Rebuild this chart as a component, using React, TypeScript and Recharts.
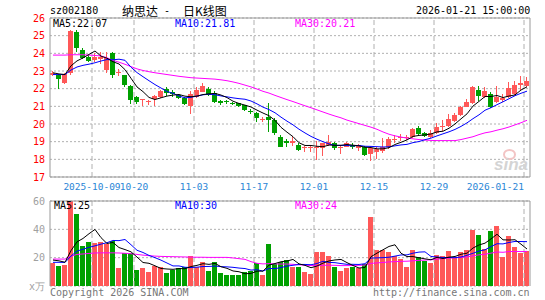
import React from "react";
import { ComposedChart, Bar, Line, XAxis, YAxis, ReferenceLine, CartesianGrid } from "recharts";

const dates = [
  "2025-09-22", "2025-09-23", "2025-09-24", "2025-09-25", "2025-09-26", "2025-09-29", "2025-09-30",
  "2025-10-09", "2025-10-10", "2025-10-13", "2025-10-14", "2025-10-15", "2025-10-16", "2025-10-17",
  "2025-10-20", "2025-10-21", "2025-10-22", "2025-10-23", "2025-10-24", "2025-10-27", "2025-10-28",
  "2025-10-29", "2025-10-30", "2025-10-31",
  "2025-11-03", "2025-11-04", "2025-11-05", "2025-11-06", "2025-11-07", "2025-11-10", "2025-11-11",
  "2025-11-12", "2025-11-13", "2025-11-14", "2025-11-17", "2025-11-18", "2025-11-19", "2025-11-20",
  "2025-11-21", "2025-11-24", "2025-11-25", "2025-11-26", "2025-11-27", "2025-11-28",
  "2025-12-01", "2025-12-02", "2025-12-03", "2025-12-04", "2025-12-05", "2025-12-08", "2025-12-09",
  "2025-12-10", "2025-12-11", "2025-12-12", "2025-12-15", "2025-12-16", "2025-12-17", "2025-12-18",
  "2025-12-19", "2025-12-22", "2025-12-23", "2025-12-24", "2025-12-25", "2025-12-26", "2025-12-29",
  "2025-12-30", "2025-12-31",
  "2026-01-05", "2026-01-06", "2026-01-07", "2026-01-08", "2026-01-09", "2026-01-12", "2026-01-13",
  "2026-01-14", "2026-01-15", "2026-01-16", "2026-01-19", "2026-01-20", "2026-01-21",
];

const opens = [
  22.8, 22.76, 22.3, 22.87, 25.2, 24.2, 23.8, 23.6, 23.7, 23.06,
  24.0, 22.88, 22.77, 22.15, 21.55, 21.38, 21.25, 21.4, 21.55, 22.0,
  21.8, 21.65, 21.5, 21.0, 21.55, 21.83, 21.96, 21.75, 21.28, 21.3,
  21.2, 21.17, 21.08, 20.75, 20.64, 20.25, 20.42, 20.25, 19.28, 19.05,
  18.92, 18.8, 18.65, 18.65, 18.68, 18.66, 18.82, 18.94, 18.68, 18.72,
  18.8, 18.65, 18.72, 18.29, 18.43, 18.47, 18.68, 19.1, 19.2, 19.2,
  19.28, 19.76, 19.47, 19.28, 19.51, 19.83, 19.89, 20.19, 20.51, 20.98,
  21.21, 21.93, 21.51, 21.7, 21.25, 21.35, 21.51, 21.7, 22.21, 22.15,
];
const highs = [
  23.0, 22.85, 22.9, 25.3, 25.3, 24.3, 23.9, 24.0, 24.1, 24.1,
  24.05, 23.1, 22.8, 22.2, 21.6, 21.43, 21.35, 21.65, 21.95, 22.1,
  21.9, 21.7, 21.55, 21.89, 22.1, 22.3, 22.1, 21.85, 21.35, 21.35,
  21.25, 21.2, 21.1, 20.85, 20.7, 20.4, 21.17, 20.35, 19.35, 19.15,
  19.3, 18.9, 18.75, 18.78, 19.06, 18.95, 19.38, 19.0, 18.8, 18.98,
  18.95, 18.85, 18.75, 18.75, 18.7, 19.19, 19.25, 19.35, 19.45, 19.4,
  19.75, 19.9, 19.55, 19.65, 20.04, 20.2, 20.57, 20.6, 21.0, 21.4,
  22.15, 22.15, 22.1, 21.8, 22.15, 21.7, 22.4, 22.45, 22.72, 22.68,
];
const lows = [
  22.7, 22.0, 22.25, 22.8, 24.1, 23.7, 23.5, 23.5, 23.4, 22.9,
  22.6, 22.7, 22.1, 21.15, 21.15, 21.02, 21.1, 21.02, 21.5, 21.6,
  21.55, 21.4, 21.1, 20.57, 21.5, 21.8, 21.6, 21.2, 21.1, 21.15,
  21.05, 20.95, 20.75, 20.55, 20.1, 20.1, 19.57, 19.4, 18.7, 18.7,
  18.75, 18.45, 18.4, 18.4, 17.96, 18.2, 18.75, 18.55, 18.3, 18.68,
  18.6, 18.5, 18.2, 17.93, 18.0, 18.35, 18.6, 18.95, 19.05, 19.1,
  19.2, 19.35, 19.25, 19.22, 19.45, 19.6, 19.85, 20.1, 20.45, 20.95,
  21.15, 21.3, 21.45, 20.9, 21.2, 21.25, 21.45, 21.65, 21.95, 22.1,
];
const closes = [
  22.9, 22.57, 22.83, 25.26, 24.3, 23.75, 23.55, 23.8, 23.8, 23.72,
  22.75, 22.92, 22.2, 21.35, 21.27, 21.42, 21.28, 21.6, 21.85, 21.75,
  21.7, 21.45, 21.13, 21.68, 21.93, 22.15, 21.64, 21.27, 21.2, 21.22,
  21.12, 21.0, 20.8, 20.68, 20.32, 20.3, 20.25, 19.47, 18.72, 18.95,
  19.02, 18.53, 18.7, 18.72, 18.72, 18.9, 19.0, 18.63, 18.72, 18.94,
  18.72, 18.8, 18.25, 18.63, 18.57, 18.72, 19.13, 19.15, 19.25, 19.25,
  19.7, 19.42, 19.3, 19.5, 19.85, 19.88, 20.27, 20.51, 20.95, 21.26,
  22.08, 21.6, 21.89, 20.95, 21.55, 21.5, 22.02, 22.21, 22.34, 22.45,
];
// 万手
const volumes = [
  15.9, 14.3, 15.0, 60, 50.5, 28, 31, 30.2, 31, 29.8,
  31.7, 13, 23.1, 23, 11.4, 12.4, 10.2, 14.3, 13.6, 9.5,
  11.2, 13, 13.6, 21.4, 13.6, 17.1, 10.7, 17.1, 9.5, 7.9,
  7.9, 7.9, 10, 10.7, 15.9, 7.9, 29.3, 15.5, 17.1, 18.3,
  13.6, 13.6, 10.2, 8.8, 24.3, 23.8, 21.4, 13.6, 10.7, 13,
  13.6, 12.6, 15.5, 48.8, 25.5, 25.5, 24.3, 21.4, 19, 13.6,
  25.5, 20.2, 17.4, 15.9, 22.1, 21.4, 25, 19.8, 23.8, 25.7,
  39.8, 35.7, 26.2, 38.8, 42.1, 20.2, 35, 27.2, 23.1, 25,
];

// closes / volumes just before the window, estimated from where MA5 and MA10 start
const earlierCloses = [22.6, 22.8, 22.7, 22.6, 22.8, 22.9, 23.0, 22.8, 22.9];
const earlierVolumes = [14, 16, 15, 15.5, 15, 17, 20, 19, 19.6];

// MA30 lines (they need a month of history before the window)
const priceMa30 = [
  23.9, 23.9, 23.9, 23.92, 23.92, 23.92, 23.9, 23.88, 23.85, 23.75,
  23.6, 23.5, 23.38, 23.25, 23.12, 23.03, 22.96, 22.9, 22.85, 22.8,
  22.75, 22.7, 22.66, 22.62, 22.6, 22.58, 22.56, 22.54, 22.5, 22.45,
  22.38, 22.3, 22.2, 22.1, 21.98, 21.85, 21.75, 21.62, 21.5, 21.38,
  21.27, 21.15, 21.03, 20.92, 20.8, 20.68, 20.56, 20.45, 20.35, 20.22,
  20.12, 20.02, 19.92, 19.82, 19.7, 19.55, 19.42, 19.33, 19.26, 19.2,
  19.16, 19.12, 19.09, 19.07, 19.06, 19.06, 19.06, 19.06, 19.12, 19.2,
  19.28, 19.4, 19.5, 19.56, 19.65, 19.73, 19.83, 19.95, 20.07, 20.21,
];
const volumeMa30 = [
  19, 19, 19, 21, 22.3, 22.6, 23, 23.3, 23.4, 23.4,
  23.4, 23.3, 23.1, 22.8, 22.3, 21.8, 21.4, 21.1, 20.9, 20.8,
  20.7, 20.6, 20.5, 20.4, 20.3, 20.3, 20.2, 20.2, 20.2, 20.2,
  19.8, 19.3, 18.8, 17.2, 16, 15.6, 15.8, 15.6, 15.5, 15.5,
  15.3, 15, 14.7, 14.4, 14.5, 14.6, 14.7, 14.6, 14.4, 14.4,
  14.5, 14.6, 14.8, 16, 16.3, 16.6, 17, 17.2, 17.4, 17.5,
  17.8, 18.1, 18.3, 18.5, 19, 19.3, 19.7, 19.9, 20.2, 20.5,
  21.3, 22, 22.4, 23.2, 24, 23.8, 24.3, 24.4, 24.3, 24.4,
];

const tickDates = ["2025-10-09", "2025-10-20", "2025-11-03", "2025-11-17", "2025-12-01", "2025-12-15", "2025-12-29", "2026-01-21"];
const tickLabels = ["2025-10-09", "10-20", "11-03", "11-17", "12-01", "12-15", "12-29", "2026-01-21"];
const priceTicks = [17, 18, 19, 20, 21, 22, 23, 24, 25, 26];
const volumeTicks = [0, 20, 40, 60];

const RED = "#ff5858";
const GREEN = "#00a000";
const GRID = "#b0b0b0";
const BORDER = "#999";
const MONO = '"DejaVu Sans Mono", monospace';

const movingAverage = (values: number[], earlier: number[], n: number) => {
  const all = [...earlier, ...values];
  return values.map((_, i) => {
    const end = earlier.length + i + 1;
    const win = all.slice(end - n, end);
    return win.reduce((s, v) => s + v, 0) / win.length;
  });
};

const ma5 = movingAverage(closes, earlierCloses, 5);
const ma10 = movingAverage(closes, earlierCloses, 10);
const vma5 = movingAverage(volumes, earlierVolumes, 5);
const vma10 = movingAverage(volumes, earlierVolumes, 10);

const rows = dates.map((date, i) => ({
  date,
  open: opens[i],
  high: highs[i],
  low: lows[i],
  close: closes[i],
  range: [lows[i], highs[i]],
  vol: volumes[i],
  ma5: ma5[i],
  ma10: ma10[i],
  ma30: priceMa30[i],
  vma5: vma5[i],
  vma10: vma10[i],
  vma30: volumeMa30[i],
}));

const Candle = (props: any) => {
  const { x, y, width, height, payload } = props;
  const top0 = Math.min(y, y + height);
  const h = Math.abs(height);
  const { open, close, high, low } = payload;
  const color = close >= open ? RED : GREEN;
  const py = (p: number) => top0 + ((high - p) / (high - low)) * h;
  const bodyTop = py(Math.max(open, close));
  const bodyH = Math.max(1, py(Math.min(open, close)) - bodyTop);
  return (
    <g shapeRendering="crispEdges">
      <rect x={Math.round(x) + 2} y={top0} width={1} height={h} fill={color} />
      <rect x={Math.round(x)} y={bodyTop} width={Math.round(width) - 1} height={bodyH} fill={color} />
    </g>
  );
};

const VolumeBar = (props: any) => {
  const { x, y, width, height, payload } = props;
  const color = payload.close >= payload.open ? RED : GREEN;
  return (
    <rect
      x={Math.round(x)}
      y={Math.min(y, y + height)}
      width={Math.round(width) - 1}
      height={Math.abs(height)}
      fill={color}
      shapeRendering="crispEdges"
    />
  );
};

const PriceTick = ({ x, y, payload }: any) => (
  <text x={x} y={y} dy="0.355em" textAnchor="end" fill="#f00" fontSize={10} fontFamily={MONO}>
    {payload.value}
  </text>
);

const VolumeTick = ({ x, y, payload }: any) => (
  <text x={x} y={y} dy="0.355em" textAnchor="end" fill="#a0a0a0" fontSize={10} fontFamily={MONO}>
    {payload.value === 0 ? "x万" : payload.value}
  </text>
);

const DateTick = ({ x, y, payload }: any) => {
  const idx = tickDates.indexOf(payload.value);
  const isLast = idx === tickDates.length - 1;
  return (
    <text
      x={x - 3}
      y={y}
      dy="0.71em"
      textAnchor={isLast ? "end" : "middle"}
      fill="#2a86d6"
      fontSize={9.5}
      fontFamily={MONO}
    >
      {tickLabels[idx]}
    </text>
  );
};

const label = (text: string, left: number, top: number, color: string, extra: React.CSSProperties = {}) => (
  <div
    style={{
      position: "absolute",
      left,
      top,
      color,
      fontFamily: MONO,
      fontSize: 10,
      lineHeight: "12px",
      whiteSpace: "nowrap",
      ...extra,
    }}
  >
    {text}
  </div>
);

const lastDate = dates[dates.length - 1];

export default function App() {
  return (
    <div
      style={{
        position: "absolute",
        left: 0,
        top: 0,
        width: 545,
        height: 300,
        background: "#fff",
        overflow: "hidden",
      }}
    >
      <div style={{ position: "absolute", left: 0, top: 0 }}>
        <ComposedChart
          width={545}
          height={195}
          data={rows}
          margin={{ top: 18, right: 15, bottom: 5, left: 0 }}
          barCategoryGap={0}
          barGap={0}
        >
          <CartesianGrid vertical={false} stroke={GRID} strokeDasharray="2 2" />
          <XAxis
            dataKey="date"
            ticks={tickDates}
            interval={0}
            height={13}
            tickSize={0}
            tickMargin={6}
            tickLine={false}
            axisLine={{ stroke: BORDER }}
            tick={<DateTick />}
          />
          <YAxis
            domain={[17, 26]}
            ticks={priceTicks}
            interval={0}
            width={50}
            tickSize={0}
            tickMargin={5}
            tickLine={false}
            axisLine={{ stroke: BORDER }}
            tick={<PriceTick />}
          />
          {tickDates.map((d) => (
            <ReferenceLine key={d} x={d} position="start" stroke={GRID} strokeDasharray="5 3" />
          ))}
          <ReferenceLine y={26} stroke={BORDER} />
          <ReferenceLine x={lastDate} position="end" stroke={BORDER} />
          <Bar dataKey="range" shape={<Candle />} isAnimationActive={false} />
          <Line type="linear" dataKey="ma30" stroke="#ff00ff" strokeWidth={1} dot={false} activeDot={false} isAnimationActive={false} />
          <Line type="linear" dataKey="ma10" stroke="#0000ff" strokeWidth={1} dot={false} activeDot={false} isAnimationActive={false} />
          <Line type="linear" dataKey="ma5" stroke="#000" strokeWidth={1} dot={false} activeDot={false} isAnimationActive={false} />
        </ComposedChart>
      </div>

      <div style={{ position: "absolute", left: 0, top: 195 }}>
        <ComposedChart
          width={545}
          height={105}
          data={rows}
          margin={{ top: 6, right: 15, bottom: 14, left: 0 }}
          barCategoryGap={0}
          barGap={0}
        >
          <CartesianGrid vertical={false} stroke={GRID} strokeDasharray="2 2" />
          <XAxis dataKey="date" hide />
          <YAxis
            domain={[0, 60]}
            ticks={volumeTicks}
            interval={0}
            width={50}
            tickSize={0}
            tickMargin={5}
            tickLine={false}
            axisLine={{ stroke: BORDER }}
            tick={<VolumeTick />}
          />
          {tickDates.map((d) => (
            <ReferenceLine key={d} x={d} position="start" stroke={GRID} strokeDasharray="5 3" />
          ))}
          <ReferenceLine y={60} stroke={BORDER} />
          <ReferenceLine x={lastDate} position="end" stroke={BORDER} />
          <Bar dataKey="vol" shape={<VolumeBar />} isAnimationActive={false} />
          <Line type="linear" dataKey="vma30" stroke="#ff00ff" strokeWidth={1} dot={false} activeDot={false} isAnimationActive={false} />
          <Line type="linear" dataKey="vma10" stroke="#0000ff" strokeWidth={1} dot={false} activeDot={false} isAnimationActive={false} />
          <Line type="linear" dataKey="vma5" stroke="#000" strokeWidth={1} dot={false} activeDot={false} isAnimationActive={false} />
        </ComposedChart>
      </div>

      {label("sz002180", 50, 5, "#000")}
      <div
        style={{
          position: "absolute",
          left: 122,
          top: 5,
          fontFamily: '"Noto Sans CJK SC", sans-serif',
          fontSize: 12,
          lineHeight: "12px",
          color: "#000",
          whiteSpace: "nowrap",
        }}
      >
        纳思达
      </div>
      {label("-", 164, 5, "#000")}
      <div
        style={{
          position: "absolute",
          left: 183,
          top: 5,
          fontFamily: '"Noto Sans CJK SC", sans-serif',
          fontSize: 12,
          lineHeight: "12px",
          color: "#000",
          whiteSpace: "nowrap",
        }}
      >
        日K线图
      </div>
      {label("2026-01-21 15:00:00", 416, 5, "#000")}

      {label("MA5:22.07", 53, 18, "#000")}
      {label("MA10:21.81", 175, 18, "#0000ff")}
      {label("MA30:20.21", 295, 18, "#ff00ff")}

      {label("MA5:25", 54, 200, "#000")}
      {label("MA10:30", 175, 200, "#0000ff")}
      {label("MA30:24", 295, 200, "#ff00ff")}

      {label("Copyright 2026 SINA.COM", 50, 287, "#777")}
      {label("http://finance.sina.com.cn", 373, 287, "#777")}

      <div
        style={{
          position: "absolute",
          left: 503,
          top: 149,
          width: 9,
          height: 7,
          borderRadius: "50%",
          border: "2px solid #f3c4c4",
        }}
      />
      <div
        style={{
          position: "absolute",
          left: 494,
          top: 156,
          fontFamily: '"Liberation Sans", sans-serif',
          fontWeight: "bold",
          fontStyle: "italic",
          fontSize: 17,
          lineHeight: "17px",
          color: "#d4d4d4",
        }}
      >
        sina
      </div>
    </div>
  );
}
